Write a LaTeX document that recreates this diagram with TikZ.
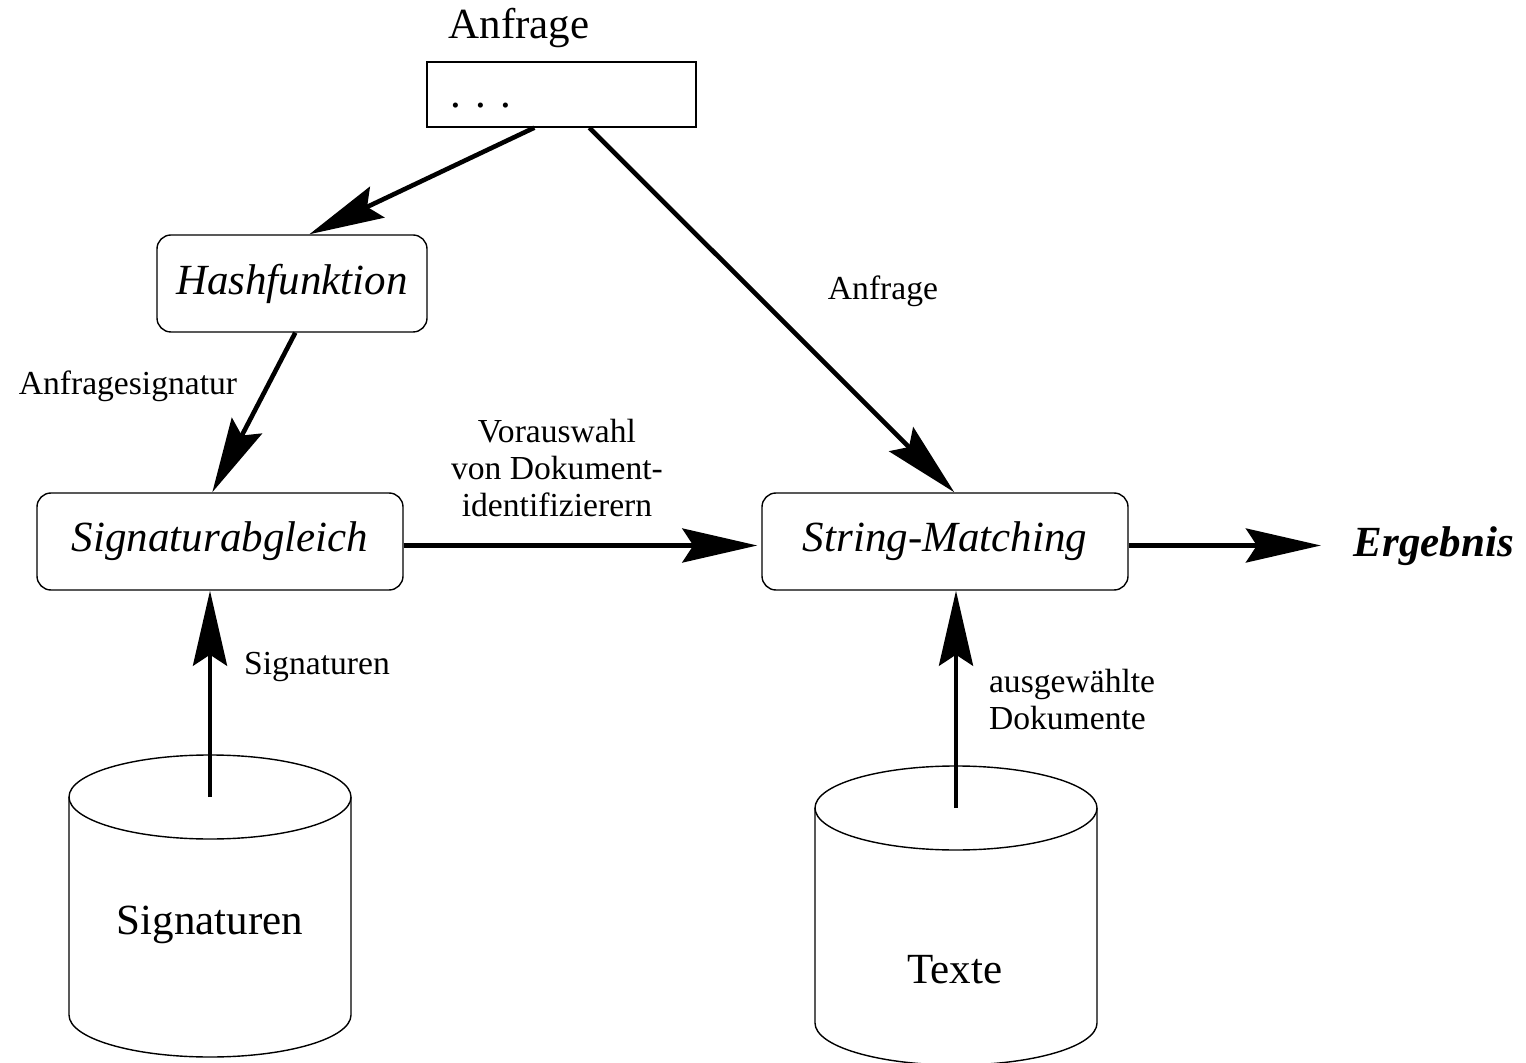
\documentclass[tikz,border=0pt]{standalone}
\usepackage{fontspec}
\setmainfont{Liberation Serif}
\usetikzlibrary{arrows.meta}
\begin{document}
\begin{tikzpicture}[x=0.5pt,y=-0.5pt,
  big/.style={font=\fontsize{21.5}{24}\selectfont},
  small/.style={font=\fontsize{16.8}{18.5}\selectfont},
  procbox/.style={draw,line width=0.7pt,rounded corners=7pt,minimum height=48.5pt,inner sep=0pt,font=\fontsize{21.5}{24}\selectfont\itshape},
  flow/.style={line width=2.3pt,-{Stealth[length=37.5pt,width=17pt,inset=5.5pt]}},
  cyl/.style={line width=0.7pt}]
\useasboundingbox (0,0) rectangle (1526,1063);

% query
\node[big] (qtitle) at (519,28) {Anfrage};
\node[draw,line width=0.7pt,minimum width=134.5pt,minimum height=32.5pt,inner sep=0pt] (qbox) at (561.5,94.5) {};
\node[big,anchor=west,inner sep=0pt] (qdots) at (450,106) {. . .};

% process boxes
\node[procbox,minimum width=135pt] (hash) at (292,283.5) {Hashfunktion};
\node[procbox,minimum width=183pt] (sig) at (220,541.5) {Signaturabgleich};
\node[procbox,minimum width=183pt] (sm) at (945,541.5) {String-Matching};
\node[big,font=\fontsize{21.5}{24}\selectfont\bfseries\itshape] (erg) at (1434,546) {Ergebnis};

% cylinders
\draw[cyl] (210,797) ellipse [x radius=141, y radius=42];
\draw[cyl] (69,797) -- (69,1015) arc[start angle=180,end angle=0,x radius=141,y radius=42] -- (351,797);
\coordinate (sigdb) at (210,797);
\node[big] (sigdbl) at (210,925) {Signaturen};

\draw[cyl] (956,808) ellipse [x radius=141, y radius=42];
\draw[cyl] (815,808) -- (815,1023) arc[start angle=180,end angle=0,x radius=141,y radius=42] -- (1097,808);
\coordinate (txtdb) at (956,808);
\node[big] (txtdbl) at (955,970) {Texte};

% connectors
\draw[flow] ([xshift=54pt]qbox.south west) -- ([xshift=76.5pt]hash.north west);
\draw[flow] ([xshift=81.5pt]qbox.south west) -- ([xshift=96.5pt]sm.north west);
\draw[flow] ([xshift=69.5pt]hash.south west) -- ([xshift=88pt]sig.north west);
\draw[flow] ([yshift=-2pt]sig.east) -- ([xshift=-2pt,yshift=-2pt]sm.west);
\draw[flow] ([yshift=-2pt]sm.east) -- ([xshift=-13pt,yshift=-2pt]erg.west |- sm.east);
\draw[flow] (sigdb) -- (sigdb |- sig.south);
\draw[flow] (txtdb) -- (txtdb |- sm.south);

% labels
\node[small] (l1) at (883,291) {Anfrage};
\node[small] (l2) at (128,386) {Anfragesignatur};
\node[small,align=center] (l3) at (557,468) {Vorauswahl\\von Dokument-\\identifizierern};
\node[small] (l4) at (317,667) {Signaturen};
\node[small,align=left,anchor=west] (l5) at (982,700) {ausgewählte\\Dokumente};
\end{tikzpicture}
\end{document}
